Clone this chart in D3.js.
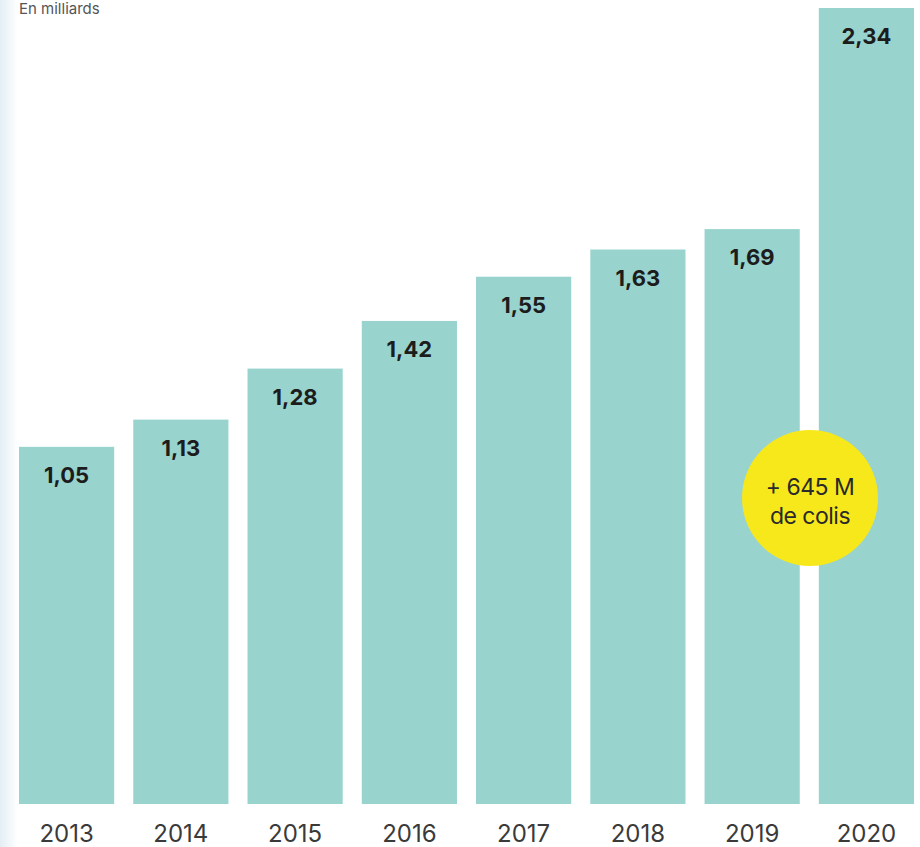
<!DOCTYPE html>
<html>
<head>
<meta charset="utf-8">
<script src="https://cdn.jsdelivr.net/npm/d3@7"></script>
<style>
  body { margin: 0; background: #fff; }
  svg { display: block; }
</style>
</head>
<body>
<div id="chart"></div>
<script>
// Data
const years = ['2013', '2014', '2015', '2016', '2017', '2018', '2019', '2020'];
const values = [1.05, 1.13, 1.28, 1.42, 1.55, 1.63, 1.69, 2.34];
const valueLabels = ['1,05', '1,13', '1,28', '1,42', '1,55', '1,63', '1,69', '2,34'];
const bubbleLines = ['+ 645 M', 'de colis'];

const width = 920;
const height = 847;

const svg = d3.select('#chart')
    .append('svg')
    .attr('width', width)
    .attr('height', height);

// faint left edge tint (scan look)
const grad = svg.append('defs').append('linearGradient')
    .attr('id', 'edge')
    .attr('x1', 0).attr('x2', 1);
grad.append('stop').attr('offset', 0).attr('stop-color', '#e4eef5');
grad.append('stop').attr('offset', 1).attr('stop-color', '#ffffff');
svg.append('rect')
    .attr('x', 0).attr('y', 0)
    .attr('width', 18).attr('height', height)
    .attr('fill', 'url(#edge)');

// Scales
const x = d3.scaleBand()
    .domain(years)
    .range([19, 914])
    .paddingInner(0.167)
    .paddingOuter(0);

const y = d3.scaleLinear()
    .domain([0, 2.34])
    .range([804, 8]);

// unit label at the top (mostly cut off in the original)
svg.append('text')
    .attr('x', 19)
    .attr('y', 14)
    .style('font-family', 'Inter, sans-serif')
    .style('font-size', '15px')
    .style('fill', '#555')
    .text('En milliards');

// Bars
svg.append('g')
    .selectAll('rect')
    .data(values)
    .enter()
    .append('rect')
    .attr('x', (d, i) => x(years[i]))
    .attr('y', d => y(d))
    .attr('width', x.bandwidth())
    .attr('height', d => y(0) - y(d))
    .attr('fill', '#98d3ce');

// Value labels
svg.append('g')
    .selectAll('text')
    .data(values)
    .enter()
    .append('text')
    .attr('x', (d, i) => x(years[i]) + x.bandwidth() / 2)
    .attr('y', d => y(d) + 36)
    .attr('text-anchor', 'middle')
    .style('font-family', 'Inter, sans-serif')
    .style('font-weight', '700')
    .style('font-size', '22px')
    .style('fill', '#1c1c1c')
    .text((d, i) => valueLabels[i]);

// Year axis
const xAxis = svg.append('g')
    .attr('transform', 'translate(0,' + y(0) + ')')
    .call(d3.axisBottom(x).tickSize(0).tickPadding(38));
xAxis.select('.domain').remove();
xAxis.selectAll('text')
    .attr('dy', 0)
    .style('font-family', 'Inter, sans-serif')
    .style('font-size', '24px')
    .style('fill', '#3a3a3a');

// Yellow bubble
const bubble = svg.append('g')
    .attr('transform', 'translate(810,498)');
bubble.append('circle')
    .attr('r', 68)
    .attr('fill', '#f7e81c');
bubble.selectAll('text')
    .data(bubbleLines)
    .enter()
    .append('text')
    .attr('x', 0)
    .attr('y', (d, i) => -3 + i * 29)
    .attr('text-anchor', 'middle')
    .style('font-family', 'Inter, sans-serif')
    .style('font-size', '23px')
    .style('letter-spacing', '-0.5px')
    .style('fill', '#2a2a2a')
    .text(d => d);
</script>
</body>
</html>
